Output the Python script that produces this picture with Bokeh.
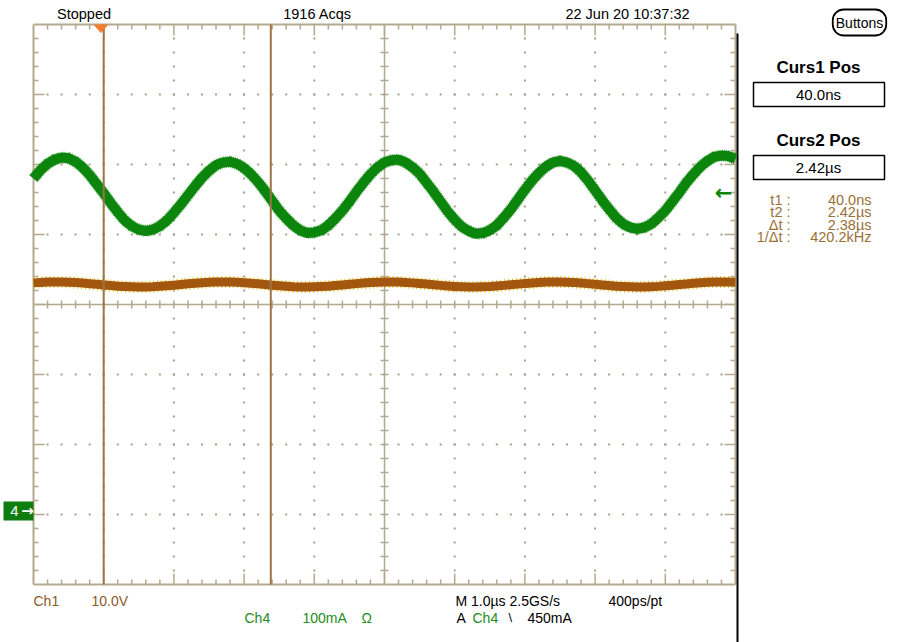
import numpy as np
from bokeh.plotting import figure
from bokeh.models import Range1d, Label
from bokeh.embed import file_html
from bokeh.resources import INLINE

# ---------------- values ----------------
t_start_us = -0.96          # time at the left edge of the graticule (1 us/div)
t_step_us = 0.1             # spacing of the read-off samples
ch4_current_mA = [
    475, 487, 496, 502, 505, 504, 499, 491, 480, 467,
    454, 440, 427, 415, 407, 402, 400, 402, 407, 415,
    426, 438, 451, 464, 476, 486, 494, 498, 499, 496,
    490, 481, 470, 457, 443, 429, 418, 408, 401, 397,
    398, 401, 408, 418, 429, 442, 456, 469, 481, 491,
    498, 501, 502, 498, 491, 482, 469, 456, 442, 428,
    416, 406, 400, 396, 397, 401, 408, 419, 431, 445,
    459, 472, 483, 492, 498, 500, 498, 493, 484, 472,
    458, 444, 431, 419, 410, 405, 403, 405, 410, 419,
    429, 442, 455, 469, 481, 492, 500, 506, 508, 507,
    503]
ch1_voltage_V = [
    3.09, 3.16, 3.20, 3.22, 3.21, 3.18, 3.13, 3.06, 2.97, 2.88,
    2.78, 2.70, 2.62, 2.56, 2.52, 2.50, 2.51, 2.54, 2.60, 2.67,
    2.76, 2.86, 2.95, 3.04, 3.11, 3.17, 3.21, 3.22, 3.21, 3.17,
    3.11, 3.03, 2.95, 2.85, 2.76, 2.67, 2.60, 2.54, 2.51, 2.50,
    2.52, 2.56, 2.62, 2.70, 2.79, 2.88, 2.98, 3.06, 3.13, 3.19,
    3.21, 3.22, 3.20, 3.15, 3.09, 3.01, 2.92, 2.82, 2.73, 2.65,
    2.58, 2.53, 2.50, 2.50, 2.53, 2.57, 2.64, 2.73, 2.82, 2.91,
    3.00, 3.08, 3.15, 3.20, 3.22, 3.22, 3.19, 3.14, 3.07, 2.98,
    2.89, 2.79, 2.70, 2.62, 2.56, 2.52, 2.50, 2.51, 2.54, 2.59,
    2.67, 2.75, 2.85, 2.94, 3.03, 3.11, 3.17, 3.21, 3.22, 3.21,
    3.17]
ch4_mA_per_div = 100
ch4_ground_div = -2.95
ch1_V_per_div = 10
ch1_ground_div = 0.0
cursor_times_us = [0.04, 2.42]
trigger_time_us = 0.0
trigger_level_mA = 450

status_texts = ["Stopped", "1916 Acqs", "22 Jun 20 10:37:32"]
cursor_titles = ["Curs1 Pos", "Curs2 Pos"]
cursor_values = ["40.0ns", "2.42µs"]
readout_labels = ["t1 :", "t2 :", "Δt :", "1/Δt :"]
readout_values = ["40.0ns", "2.42µs", "2.38µs", "420.2kHz"]

# ---------------- layout ----------------
GX0, PXX = 33, 70.2     # graticule left edge (px), px per division horizontally
GY0, PXY = 24, 70.0     # graticule top edge (px), px per division vertically
W, H = 900, 642


def X(px):
    return t_start_us + (px - GX0) / PXX


def Y(py):
    return 4 - (py - GY0) / PXY


def dx(px):
    return px / PXX


def dy(px):
    return px / PXY


GC = "#b3a98e"
DOT = "#a8a08a"
GREEN = "#0c850c"
BROWN = "#a3560e"
YELLOW = "#e6c619"
CUR = "#9c7446"
ORANGE = "#f57b2a"
READ = "#9a7038"
CH1C = "#8c5a28"
GTXT = "#238c23"
FONT = "Liberation Sans"

p = figure(width=W, height=H, x_range=Range1d(X(0), X(W)), y_range=Range1d(Y(H), Y(0)),
           output_backend="svg", toolbar_location=None, min_border=0,
           x_axis_type=None, y_axis_type=None, outline_line_color=None,
           background_fill_color="white", border_fill_color="white")

tL, tR, tC = t_start_us, t_start_us + 10, t_start_us + 5

# dotted major grid
dxs, dys = [], []
for k in range(1, 10):
    if k == 5:
        continue
    for j in range(1, 40):
        dxs.append(tL + k)
        dys.append(-4 + 0.2 * j)
for m in range(-3, 4):
    if m == 0:
        continue
    for j in range(1, 50):
        dxs.append(tL + 0.2 * j)
        dys.append(m)
p.scatter(dxs, dys, marker="square", size=2, fill_color=DOT, line_color=None)

# centre cross with ticks
p.segment(x0=[tC, tL], y0=[-4, 0], x1=[tC, tR], y1=[4, 0], line_color=GC, line_width=1.5)
vy = [-4 + 0.2 * j for j in range(1, 40)]
p.segment(x0=[tC - dx(4)] * len(vy), y0=vy, x1=[tC + dx(4)] * len(vy), y1=vy, line_color=GC, line_width=1.5)
hx = [tL + 0.2 * j for j in range(1, 50)]
p.segment(x0=hx, y0=[-dy(4)] * len(hx), x1=hx, y1=[dy(4)] * len(hx), line_color=GC, line_width=1.5)

# border with ticks
p.segment(x0=[tL, tL, tL, tR], y0=[4, -4, -4, -4], x1=[tR, tR, tL, tR], y1=[4, -4, 4, 4],
          line_color=GC, line_width=2)
tlen = [dy(11) if j % 5 == 0 else dy(5) for j in range(1, 50)]
p.segment(x0=hx, y0=[4] * len(hx), x1=hx, y1=[4 - L for L in tlen], line_color=GC, line_width=1.5)
p.segment(x0=hx, y0=[-4] * len(hx), x1=hx, y1=[-4 + L for L in tlen], line_color=GC, line_width=1.5)
vlen = [dx(11) if j % 5 == 0 else dx(5) for j in range(1, 40)]
p.segment(x0=[tL] * len(vy), y0=vy, x1=[tL + L for L in vlen], y1=vy, line_color=GC, line_width=1.5)
p.segment(x0=[tR] * len(vy), y0=vy, x1=[tR - L for L in vlen], y1=vy, line_color=GC, line_width=1.5)

# panel divider
p.segment(x0=[X(737)], y0=[Y(33)], x1=[X(737)], y1=[Y(H)], line_color="black", line_width=2)

# traces
t = t_start_us + t_step_us * np.arange(len(ch4_current_mA))
g = np.array(ch4_current_mA) / ch4_mA_per_div + ch4_ground_div
b = np.array(ch1_voltage_V) / ch1_V_per_div + ch1_ground_div
p.line(t, g, line_width=12, line_color=GREEN, line_dash="1 1", line_alpha=0.55, line_join="round")
p.line(t, g, line_width=10, line_color=GREEN, line_join="round")
p.line(t, b, line_width=12, line_color=YELLOW, line_dash="1 3", line_join="round")
p.line(t, b, line_width=9, line_color=BROWN, line_join="round")

# cursors
p.segment(x0=cursor_times_us, y0=[-4] * 2, x1=cursor_times_us, y1=[4] * 2, line_color=CUR, line_width=2)

# trigger position marker
p.patch([trigger_time_us - dx(6.5), trigger_time_us + dx(6.5), trigger_time_us],
        [Y(24.5), Y(24.5), Y(32)], fill_color=ORANGE, line_color=ORANGE)


def lab(txt, x, y, size=14, color="black", align="left", bold=False, font=FONT, **kw):
    p.add_layout(Label(x=x, y=y, text=txt, text_font=font, text_font_size=f"{size}px",
                       text_color=color, text_align=align, text_baseline="middle",
                       text_font_style="bold" if bold else "normal", **kw))


# trigger level arrow
lab("←", X(723), trigger_level_mA / ch4_mA_per_div + ch4_ground_div + dy(3), size=21,
    color=GREEN, align="center", bold=True, font="DejaVu Sans")

# Ch4 ground marker
p.quad(left=[X(3)], right=[X(33)], top=[ch4_ground_div + dy(9.5)], bottom=[ch4_ground_div - dy(9.5)],
       fill_color="#0e7c0e", line_color=None)
lab("4", X(14), ch4_ground_div, size=15, color="white", align="center")
lab("→", X(27), ch4_ground_div, size=15, color="white", align="center", bold=True, font="DejaVu Sans")

# top status line
lab(status_texts[0], X(83.5), Y(13.5), size=14.5, align="center")
lab(status_texts[1], X(317), Y(13.5), size=14.5, align="center")
lab(status_texts[2], X(627), Y(13.5), size=14.5, align="center")
lab("Buttons", X(859), Y(22), size=14, align="center", border_line_color="black",
    border_line_width=1.8, border_radius=11, padding=(3, 5))

# right panel
for i, (ttl, val) in enumerate(zip(cursor_titles, cursor_values)):
    top = 82 + 73 * i
    lab(ttl, X(818), Y(67 + 72.5 * i), size=17, align="center", bold=True)
    p.quad(left=[X(753)], right=[X(884)], top=[Y(top)], bottom=[Y(top + 24)],
           fill_color="white", line_color="black", line_width=1.5)
    lab(val, X(818), Y(top + 12), size=15, align="center")

for i, (a, v) in enumerate(zip(readout_labels, readout_values)):
    yy = 199 + 12.5 * i
    lab(a, X(790), Y(yy), size=14.5, color=READ, align="right")
    lab(v, X(871), Y(yy), size=14.5, color=READ, align="right")

# bottom readouts
lab("Ch1", X(33), Y(600.5), size=14, color=CH1C)
lab("10.0V", X(91), Y(600.5), size=14, color=CH1C)
lab("Ch4", X(244), Y(617), size=14, color=GTXT)
lab("100mA", X(302), Y(617), size=14, color=GTXT)
lab("Ω", X(361), Y(617), size=14, color=GTXT)
lab("M 1.0µs 2.5GS/s", X(455), Y(600.5), size=14)
lab("400ps/pt", X(608), Y(600.5), size=14)
lab("A", X(456), Y(617), size=14)
lab("Ch4", X(472), Y(617), size=14, color=GTXT)
lab("\\", X(508), Y(617), size=13)
lab("450mA", X(527), Y(617), size=14)

open("out.html", "w").write(file_html(p, INLINE))
